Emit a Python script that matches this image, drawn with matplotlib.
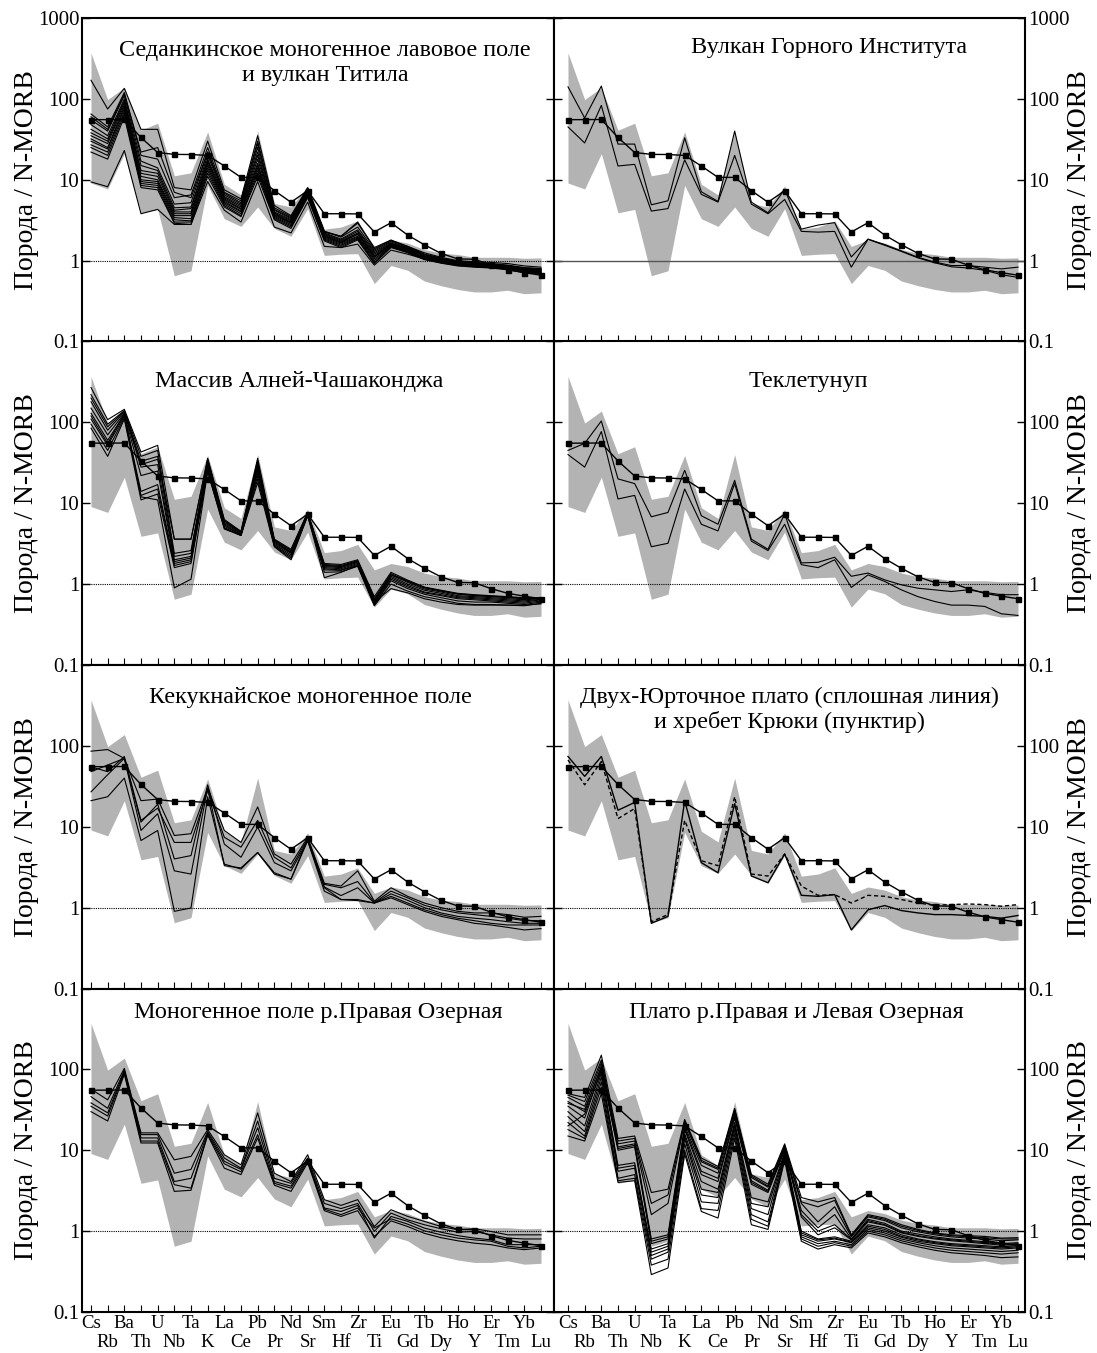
import numpy as np
import matplotlib
matplotlib.use('Agg')
import matplotlib.pyplot as plt
from matplotlib.ticker import FixedLocator, NullLocator, FixedFormatter

plt.rcParams['font.family'] = ['Liberation Serif', 'DejaVu Serif']

elements = ['Cs', 'Rb', 'Ba', 'Th', 'U', 'Nb', 'Ta', 'K', 'La', 'Ce', 'Pb', 'Pr', 'Nd', 'Sr',
            'Sm', 'Hf', 'Zr', 'Ti', 'Eu', 'Gd', 'Tb', 'Dy', 'Ho', 'Y', 'Er', 'Tm', 'Yb', 'Lu']

# OIB / N-MORB reference line (squares)
oib = [55.3, 55.4, 55.6, 33.3, 21.7, 20.6, 20.5, 20.0, 14.8, 10.7, 10.7, 7.35, 5.27, 7.33,
       3.8, 3.8, 3.78, 2.26, 2.94, 2.07, 1.57, 1.23, 1.05, 1.04, 0.88, 0.77, 0.71, 0.66]

# grey field (same in every panel)
band_upper = [370, 98, 138, 41, 50, 11.2, 12.2, 39, 8.8, 6.5, 40, 5.1, 4.6, 8.4,
              2.45, 2.6, 3.1, 1.5, 1.8, 1.65, 1.37, 1.24, 1.19, 1.1, 1.1, 1.1, 1.07, 1.08]
band_lower = [9.1, 7.7, 21, 3.9, 4.3, 0.65, 0.75, 8.5, 3.3, 2.65, 4.6, 2.5, 2.0, 4.4,
              1.16, 1.2, 1.22, 0.52, 0.87, 0.76, 0.56, 0.49, 0.44, 0.41, 0.41, 0.43, 0.39, 0.40]

sedanka = [
    [170, 75, 135, 42, 42, 8.0, 7.5, 30, 7.5, 5.8, 35, 4.8, 3.6, 8.0, 2.3, 2.0, 2.9, 1.45, 1.8, 1.5, 1.25, 1.1, 1.0, 0.97, 0.95, 0.92, 0.86, 0.83],
    [9.4, 8.2, 23, 3.8, 4.3, 2.8, 2.8, 9.5, 4.2, 3.0, 9.5, 2.6, 2.2, 5.3, 1.5, 1.45, 1.6, 0.88, 1.35, 1.2, 1.05, 0.95, 0.88, 0.85, 0.84, 0.8, 0.75, 0.72],
    [65, 45, 120, 20, 18, 6.0, 6.5, 25, 7.0, 5.5, 30, 4.5, 3.5, 7.8, 2.3, 1.95, 2.6, 1.35, 1.75, 1.5, 1.2, 1.08, 0.98, 0.95, 0.92, 0.88, 0.82, 0.8],
    [55, 40, 110, 17, 14, 5.0, 5.2, 22, 6.5, 5.0, 25, 4.2, 3.3, 7.5, 2.2, 1.85, 2.4, 1.3, 1.7, 1.45, 1.18, 1.05, 0.96, 0.93, 0.9, 0.86, 0.8, 0.78],
    [48, 35, 100, 15, 13, 4.5, 4.6, 20, 6.2, 4.8, 22, 4.0, 3.2, 7.3, 2.15, 1.8, 2.3, 1.25, 1.65, 1.42, 1.15, 1.03, 0.95, 0.92, 0.89, 0.85, 0.79, 0.77],
    [42, 32, 95, 13, 12, 4.2, 4.4, 18, 6.0, 4.6, 20, 3.9, 3.1, 7.2, 2.1, 1.75, 2.2, 1.2, 1.62, 1.4, 1.13, 1.02, 0.93, 0.9, 0.88, 0.84, 0.78, 0.76],
    [38, 30, 90, 12, 11, 4.0, 4.0, 17, 5.8, 4.4, 18, 3.8, 3.0, 7.0, 2.05, 1.7, 2.15, 1.15, 1.6, 1.38, 1.12, 1.0, 0.92, 0.89, 0.87, 0.83, 0.77, 0.75],
    [35, 28, 85, 11, 10, 3.8, 3.8, 16, 5.6, 4.3, 16, 3.7, 2.95, 6.8, 2.0, 1.68, 2.1, 1.12, 1.57, 1.35, 1.1, 0.99, 0.91, 0.88, 0.86, 0.82, 0.76, 0.74],
    [32, 25, 80, 10, 9.5, 3.6, 3.6, 15, 5.4, 4.1, 15, 3.6, 2.9, 6.6, 1.95, 1.65, 2.0, 1.1, 1.55, 1.33, 1.08, 0.98, 0.9, 0.87, 0.85, 0.81, 0.75, 0.73],
    [30, 24, 75, 9.5, 9.0, 3.4, 3.3, 14, 5.2, 4.0, 14, 3.5, 2.8, 6.5, 1.9, 1.6, 1.95, 1.05, 1.52, 1.3, 1.06, 0.96, 0.89, 0.86, 0.84, 0.8, 0.74, 0.72],
    [27, 22, 70, 9.0, 8.5, 3.2, 3.1, 13, 5.0, 3.8, 13, 3.4, 2.7, 6.3, 1.85, 1.55, 1.9, 1.0, 1.5, 1.28, 1.05, 0.95, 0.88, 0.85, 0.83, 0.79, 0.73, 0.71],
    [25, 20, 65, 8.5, 8.0, 3.0, 3.0, 12, 4.8, 3.6, 12, 3.3, 2.6, 6.2, 1.8, 1.5, 1.85, 0.95, 1.48, 1.27, 1.04, 0.94, 0.87, 0.84, 0.82, 0.78, 0.72, 0.7],
    [22, 18, 60, 8.0, 7.5, 2.9, 2.8, 11, 4.6, 3.5, 11, 3.2, 2.5, 6.0, 1.75, 1.45, 1.8, 0.92, 1.45, 1.25, 1.03, 0.93, 0.86, 0.83, 0.81, 0.77, 0.71, 0.69],
    [60, 42, 115, 22, 25, 7.0, 6.0, 22, 6.8, 5.2, 28, 4.3, 3.4, 7.6, 2.25, 2.0, 3.0, 1.4, 1.78, 1.48, 1.2, 1.06, 0.97, 0.94, 0.91, 0.87, 0.81, 0.79],
]

gorny = [
    [141, 58, 144, 27.6, 27.6, 4.9, 5.5, 33, 7.1, 5.4, 40, 5.3, 3.9, 7.6, 2.45, 2.75, 2.95, 1.11, 1.85, 1.58, 1.32, 1.1, 0.96, 0.87, 0.87, 0.83, 0.79, 0.83],
    [45, 28.5, 83, 14.8, 15.5, 4.1, 4.4, 17.6, 6.6, 5.3, 20, 5.0, 3.8, 5.7, 2.3, 2.25, 2.3, 0.83, 1.83, 1.55, 1.3, 1.08, 0.94, 0.84, 0.81, 0.76, 0.67, 0.62],
]

alnei = [
    [270, 108, 145, 43, 52, 3.6, 3.6, 36, 6.3, 4.5, 36, 3.6, 2.7, 7.7, 1.8, 1.75, 2.0, 0.7, 1.4, 1.12, 0.92, 0.84, 0.77, 0.74, 0.72, 0.7, 0.68, 0.68],
    [220, 95, 140, 38, 45, 2.4, 2.6, 34, 6.0, 4.4, 32, 3.5, 2.6, 7.6, 1.75, 1.7, 1.95, 0.66, 1.35, 1.08, 0.9, 0.82, 0.75, 0.72, 0.7, 0.68, 0.66, 0.67],
    [180, 80, 135, 33, 38, 2.2, 2.4, 32, 5.8, 4.3, 30, 3.4, 2.5, 7.5, 1.7, 1.65, 1.9, 0.62, 1.3, 1.05, 0.87, 0.8, 0.72, 0.7, 0.68, 0.66, 0.64, 0.66],
    [150, 70, 130, 28, 30, 2.0, 2.2, 30, 5.6, 4.2, 28, 3.3, 2.45, 7.4, 1.65, 1.6, 1.85, 0.6, 1.25, 1.0, 0.84, 0.77, 0.7, 0.68, 0.66, 0.64, 0.62, 0.65],
    [130, 60, 125, 22, 25, 1.9, 2.1, 28, 5.4, 4.1, 26, 3.2, 2.4, 7.3, 1.6, 1.55, 1.8, 0.58, 1.2, 0.96, 0.8, 0.74, 0.68, 0.66, 0.64, 0.62, 0.6, 0.64],
    [110, 52, 120, 14, 17, 1.8, 2.0, 27, 5.2, 4.1, 24, 3.1, 2.3, 7.2, 1.55, 1.5, 1.75, 0.56, 1.15, 0.92, 0.78, 0.72, 0.66, 0.64, 0.62, 0.6, 0.58, 0.62],
    [95, 45, 115, 12.5, 15, 1.7, 1.9, 26, 5.0, 4.0, 22, 3.0, 2.2, 7.1, 1.5, 1.48, 1.7, 0.55, 1.1, 0.88, 0.75, 0.68, 0.62, 0.6, 0.6, 0.58, 0.56, 0.6],
    [85, 38, 110, 11, 13, 1.6, 1.8, 25, 4.9, 4.0, 20, 2.95, 2.1, 7.0, 1.4, 1.42, 1.66, 0.54, 1.0, 0.82, 0.7, 0.64, 0.58, 0.56, 0.56, 0.55, 0.54, 0.58],
    [120, 55, 128, 12, 11, 0.9, 1.15, 24.5, 4.8, 4.0, 18, 2.9, 2.0, 7.0, 1.2, 1.4, 1.7, 0.6, 0.88, 0.78, 0.66, 0.6, 0.56, 0.55, 0.55, 0.55, 0.55, 0.57],
    [200, 88, 138, 30, 35, 3.6, 3.6, 35, 6.1, 4.4, 33, 3.5, 2.6, 7.6, 1.7, 1.65, 1.9, 0.63, 1.3, 1.1, 0.91, 0.83, 0.76, 0.73, 0.71, 0.69, 0.67, 0.68],
]

tekletunup = [
    [45, 55, 104, 20, 17.5, 6.8, 7.7, 25.6, 7.0, 5.5, 19.2, 3.6, 2.7, 7.4, 1.83, 1.86, 2.15, 1.25, 1.37, 1.13, 0.98, 0.89, 0.85, 0.81, 0.85, 0.79, 0.74, 0.74],
    [40, 28, 77, 11.3, 12.5, 2.9, 3.2, 15, 5.5, 4.55, 17.5, 3.4, 2.6, 5.5, 1.74, 1.6, 2.0, 0.91, 1.3, 1.08, 0.85, 0.7, 0.61, 0.55, 0.55, 0.53, 0.43, 0.41],
]

kekuk = [
    [86, 90, 70, 21, 22, 7.8, 8.2, 30, 9.0, 6.4, 17.6, 4.6, 3.45, 7.4, 2.0, 1.85, 2.85, 1.2, 1.76, 1.38, 1.14, 1.0, 0.9, 0.86, 0.86, 0.82, 0.76, 0.78],
    [55, 48, 74, 12, 17, 6.4, 6.4, 28, 7.4, 5.6, 12, 4.2, 3.1, 7.1, 1.94, 1.76, 2.1, 1.16, 1.6, 1.32, 1.07, 0.94, 0.86, 0.82, 0.78, 0.74, 0.69, 0.69],
    [48, 58, 70, 11.4, 19, 4.0, 4.4, 33, 6.1, 4.2, 9.9, 3.6, 2.85, 6.7, 1.8, 1.41, 1.76, 1.14, 1.48, 1.23, 1.0, 0.86, 0.78, 0.74, 0.71, 0.67, 0.64, 0.64],
    [27, 44, 70, 9.0, 14.5, 2.85, 2.6, 30, 3.3, 3.1, 4.8, 2.6, 2.25, 7.1, 1.76, 1.26, 1.22, 1.14, 1.38, 1.14, 0.94, 0.82, 0.74, 0.69, 0.64, 0.61, 0.61, 0.61],
    [21, 23.5, 40, 6.75, 9.0, 0.9, 0.99, 23.5, 3.45, 3.0, 4.8, 2.7, 2.25, 6.7, 1.6, 1.26, 1.26, 1.14, 1.32, 1.09, 0.9, 0.78, 0.71, 0.64, 0.61, 0.57, 0.53, 0.55],
]

dvukh_solid = [74, 42, 74, 16, 20, 0.64, 0.78, 21, 3.6, 2.7, 19.3, 2.46, 2.03, 4.6,
               1.42, 1.38, 1.45, 0.53, 0.94, 1.06, 0.92, 0.86, 0.82, 0.82, 0.8, 0.78, 0.74, 0.8]
kryuki_dashed = [67, 33, 64, 12.6, 16.8, 0.67, 0.82, 12, 3.8, 3.3, 23.5, 2.6, 2.46, 4.6,
                 1.85, 1.42, 1.45, 1.14, 1.42, 1.38, 1.26, 1.14, 1.07, 1.09, 1.11, 1.09, 1.04, 1.09]

pravaya_mono = [
    [57, 42, 103, 16.4, 16.4, 7.6, 8.4, 18, 8.8, 6.6, 29, 5.2, 4.1, 8.8, 2.45, 2.08, 2.45, 1.14, 1.84, 1.52, 1.32, 1.14, 1.04, 1.07, 0.99, 0.9, 0.9, 0.9],
    [46, 33, 98, 15.6, 15.6, 5.2, 5.8, 17, 8.0, 6.0, 23, 4.5, 3.9, 8.0, 2.2, 1.9, 2.2, 0.99, 1.67, 1.38, 1.2, 1.07, 0.97, 0.99, 0.9, 0.82, 0.8, 0.8],
    [38.5, 29, 95, 14.2, 14.2, 4.1, 4.5, 16.4, 7.3, 5.8, 19, 4.1, 3.6, 7.7, 1.93, 1.75, 2.08, 0.82, 1.52, 1.32, 1.09, 0.97, 0.88, 0.82, 0.78, 0.68, 0.68, 0.68],
    [35, 26.5, 91, 13, 13, 3.75, 3.4, 15.6, 6.8, 5.4, 15.6, 3.9, 3.4, 7.3, 1.87, 1.6, 1.93, 1.09, 1.42, 1.22, 1.01, 0.9, 0.82, 0.78, 0.75, 0.65, 0.62, 0.65],
    [30, 23, 87, 12.3, 12.3, 3.1, 3.2, 15.3, 6.0, 5.0, 14.2, 3.7, 3.1, 7.0, 1.79, 1.52, 1.79, 0.86, 1.34, 1.14, 0.94, 0.83, 0.76, 0.71, 0.68, 0.62, 0.59, 0.62],
]

ozernaya_plateau = [
    [50, 45, 150, 14, 15, 3.0, 3.3, 24, 8.0, 6.3, 33, 5.0, 3.8, 12, 2.6, 2.3, 2.6, 0.9, 1.6, 1.45, 1.2, 1.05, 0.95, 0.9, 0.88, 0.86, 0.82, 0.83],
    [45, 35, 120, 12, 13, 1.6, 2.2, 22, 7.2, 5.8, 30, 4.6, 3.5, 11, 2.2, 1.3, 2.0, 0.85, 1.5, 1.35, 1.1, 0.98, 0.9, 0.85, 0.82, 0.8, 0.76, 0.78],
    [40, 30, 110, 11, 12, 0.8, 0.9, 20, 6.5, 5.2, 28, 4.2, 3.2, 10.5, 1.8, 1.1, 1.6, 0.8, 1.4, 1.25, 1.0, 0.92, 0.85, 0.8, 0.77, 0.74, 0.7, 0.72],
    [35, 25, 100, 10, 11, 0.7, 0.8, 18, 5.0, 4.1, 25, 3.8, 3.0, 10, 1.5, 0.9, 1.1, 0.78, 1.3, 1.18, 0.95, 0.86, 0.8, 0.76, 0.73, 0.7, 0.67, 0.68],
    [30, 20, 90, 6.5, 7.0, 0.55, 0.65, 16, 4.1, 3.3, 22, 2.6, 2.3, 9.5, 1.0, 0.8, 0.85, 0.75, 1.2, 1.1, 0.9, 0.8, 0.74, 0.7, 0.68, 0.66, 0.64, 0.66],
    [26, 17, 80, 5.5, 6.0, 0.5, 0.6, 14, 2.8, 2.6, 20, 1.9, 1.6, 9.0, 0.9, 0.75, 0.8, 0.72, 1.1, 1.0, 0.84, 0.75, 0.7, 0.66, 0.64, 0.62, 0.6, 0.62],
    [22, 15, 70, 4.5, 5.0, 0.45, 0.55, 12, 2.3, 2.2, 18, 1.6, 1.3, 8.5, 0.85, 0.7, 0.75, 0.68, 1.05, 0.95, 0.8, 0.72, 0.66, 0.62, 0.6, 0.58, 0.56, 0.58],
    [18, 14, 60, 4.2, 4.5, 0.38, 0.45, 10, 1.9, 1.8, 16, 1.4, 1.15, 8.0, 0.8, 0.65, 0.72, 0.65, 1.0, 0.9, 0.76, 0.68, 0.62, 0.58, 0.56, 0.54, 0.52, 0.54],
    [15, 13, 50, 4.0, 4.2, 0.29, 0.35, 9.0, 1.75, 1.45, 14, 1.2, 1.05, 7.5, 0.75, 0.6, 0.68, 0.62, 0.95, 0.85, 0.72, 0.64, 0.58, 0.54, 0.52, 0.5, 0.47, 0.48],
    [48, 40, 130, 13, 14, 2.2, 2.8, 23, 7.5, 6.0, 32, 4.8, 3.6, 11.5, 2.3, 2.0, 2.4, 0.88, 1.55, 1.4, 1.15, 1.02, 0.93, 0.88, 0.85, 0.83, 0.8, 0.8],
    [20, 28, 95, 6.0, 6.5, 0.6, 0.7, 15, 3.3, 3.0, 21, 2.2, 2.0, 9.2, 0.95, 0.78, 0.82, 0.73, 1.15, 1.05, 0.86, 0.78, 0.72, 0.68, 0.66, 0.64, 0.62, 0.64],
    [38, 32, 105, 10.5, 11.5, 0.75, 0.85, 19, 5.5, 4.5, 26, 4.0, 3.1, 10.2, 1.6, 1.0, 1.2, 0.79, 1.35, 1.2, 0.97, 0.88, 0.82, 0.78, 0.75, 0.72, 0.69, 0.7],
]

titles = [
    ("Седанкинское моногенное лавовое поле\nи вулкан Титила", 0.515, 0.862, 1.24),
    ("Вулкан Горного Института", 0.585, 0.91, 1.0),
    ("Массив Алней-Чашаконджа", 0.46, 0.875, 1.0),
    ("Теклетунуп", 0.54, 0.875, 1.0),
    ("Кекукнайское моногенное поле", 0.485, 0.90, 1.0),
    ("Двух-Юрточное плато (сплошная линия)\nи хребет Крюки (пунктир)", 0.50, 0.862, 1.19),
    ("Моногенное поле р.Правая Озерная", 0.50, 0.925, 1.0),
    ("Плато р.Правая и Левая Озерная", 0.515, 0.925, 1.0),
]

W, H = 1097, 1353
fig = plt.figure(figsize=(W / 100, H / 100), dpi=100)
col_left = [82, 554]
col_w = [472, 471]
col_xlim = [(-0.54, 27.78), (-0.84, 27.42)]
row_top = [18, 341.5, 665, 988.5]
row_h = 323.5

x = np.arange(len(elements))
ylabels = {0.1: '0.1', 1: '1', 10: '10', 100: '100', 1000: '1000'}

panel_sets = [sedanka, gorny, alnei, tekletunup, kekuk, None, pravaya_mono, ozernaya_plateau]

for idx in range(8):
    r, c = divmod(idx, 2)
    ax = fig.add_axes([col_left[c] / W, 1 - (row_top[r] + row_h) / H, col_w[c] / W, row_h / H])
    ax.set_yscale('log')
    ax.set_ylim(0.1, 1000)
    ax.set_xlim(*col_xlim[c])
    ax.fill_between(x, band_lower, band_upper, color='#b3b3b3', lw=0, zorder=1)
    if idx == 1:
        ax.axhline(1, color='#555555', lw=1.0, zorder=2)
    else:
        ax.axhline(1, color='black', lw=0.8, ls=(0, (1, 1)), zorder=2)
    if idx == 5:
        ax.plot(x, dvukh_solid, color='black', lw=1.0, zorder=3)
        ax.plot(x, kryuki_dashed, color='black', lw=1.0, ls=(0, (3, 2)), zorder=3)
    else:
        for s in panel_sets[idx]:
            ax.plot(x, s, color='black', lw=0.8, zorder=3)
    ax.plot(x, oib, color='black', lw=1.0, marker='s', ms=3.6, zorder=4)

    title, tx, ty, lsp = titles[idx]
    ax.text(tx, ty, title, transform=ax.transAxes, ha='center', va='center',
            fontsize=17.4, linespacing=lsp)

    # y axis
    yt = [0.1, 1, 10, 100, 1000]
    ax.yaxis.set_major_locator(FixedLocator(yt))
    ax.yaxis.set_minor_locator(NullLocator())
    labs = [ylabels[v] if (r == 0 or v != 1000) else '' for v in yt]
    ax.yaxis.set_major_formatter(FixedFormatter(labs))
    ax.tick_params(axis='y', which='major', direction='in', length=6, width=1,
                   left=True, right=True, labelleft=(c == 0), labelright=(c == 1),
                   labelsize=15, pad=2)
    # x axis: even elements on the upper label row, odd ones on the lower row
    ax.set_xticks(x[::2])
    ax.set_xticks(x[1::2], minor=True)
    if r == 3:
        ax.set_xticklabels(elements[::2], fontsize=13.5)
        ax.set_xticklabels(elements[1::2], minor=True, fontsize=13.5)
    else:
        ax.set_xticklabels([])
        ax.set_xticklabels([], minor=True)
    ax.tick_params(axis='x', which='major', direction='in', length=5, width=0.8,
                   bottom=True, top=False, pad=2)
    ax.tick_params(axis='x', which='minor', direction='in', length=5, width=0.8,
                   bottom=True, top=False, pad=16)
    for sp in ax.spines.values():
        sp.set_linewidth(1.5)

    yc = row_top[r] + row_h / 2
    if c == 0:
        fig.text(27 / W, 1 - yc / H, 'Порода / N-MORB', rotation=90,
                 ha='center', va='center', fontsize=20)
    else:
        fig.text(1080 / W, 1 - yc / H, 'Порода / N-MORB', rotation=90,
                 ha='center', va='center', fontsize=20)

fig.savefig('out.png', dpi=100)
